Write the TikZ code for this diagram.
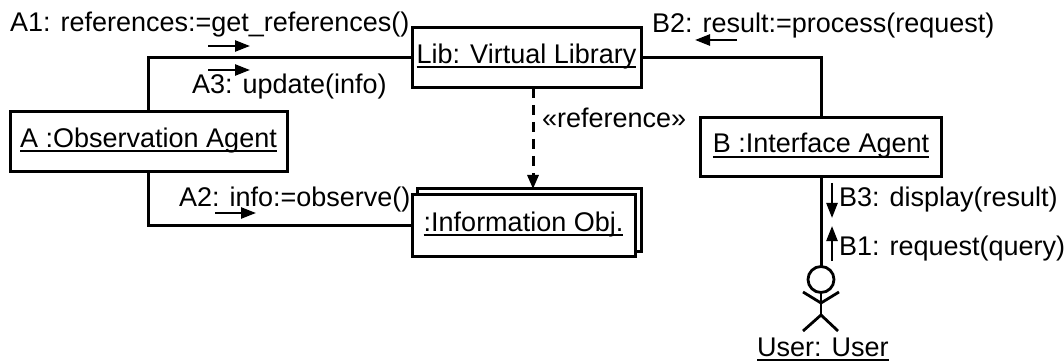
\documentclass[tikz,border=0pt]{standalone}
\usepackage{fontspec}
\setmainfont{Liberation Sans}
\usetikzlibrary{arrows.meta}
\newcommand\myul[1]{\setbox0\hbox{#1}\rlap{\rule[-5pt]{\wd0}{2pt}}\box0}
\begin{document}
\begin{tikzpicture}[x=1pt,y=-1pt,
  every node/.style={font=\fontsize{27}{32}\selectfont,inner sep=0pt,outer sep=0pt},
  obj/.style={draw,line width=3pt,fill=white,text height=19pt,text depth=8pt},
  conn/.style={line width=3pt},
  msg/.style={line width=2.4pt,-{Triangle[length=15pt,width=11pt]}},
  lbl/.style={anchor=base west}]
\useasboundingbox (0,0) rectangle (1064,363);
% objects
\node[obj,minimum width=277pt,minimum height=60pt] (A) at (148.5,142) {\myul{A :Observation Agent}};
\node[obj,minimum width=229pt,minimum height=60pt] (Lib) at (526.5,58) {\myul{Lib: Virtual Library}};
\node[obj,minimum width=241pt,minimum height=59pt] (B) at (821,147.5) {\myul{B :Interface Agent}};
\node[draw,line width=3pt,minimum width=224pt,minimum height=62pt] (InfoB) at (529,220) {};
\node[obj,minimum width=223pt,minimum height=61pt] (Info) at (523.5,225.5) {\myul{:Information Obj.}};
% actor
\node[circle,draw,line width=2.8pt,minimum size=26pt] (head) at (821,279.5) {};
\coordinate (hip) at (821,315);
\draw[line width=2.8pt] (803,292) -- (821,303) -- (839,292);
\draw[line width=2.8pt] (head.south) -- (hip);
\draw[line width=2.8pt] (803,331) -- (hip) -- (838,331);
\node[lbl] (U) at (757,356) {\myul{User: User}};
% connectors
\draw[conn] (A.north) |- (Lib.west);
\draw[conn] (Lib.east) -| (B.north);
\draw[conn] (A.south) |- (Info.west);
\draw[conn] (B.south) -- (head.north);
\draw[line width=3pt,dash pattern=on 10pt off 7pt,-{Triangle[length=14pt,width=11pt]}] ([xshift=6.5pt]Lib.south) -- ([xshift=4pt]InfoB.north);
% labels
\node[lbl] (l1) at (10,32) {A1: references:=get\_references()};
\node[lbl] (l3) at (192,94) {A3: update(info)};
\node[lbl] (l2) at (179,207) {A2: info:=observe()};
\node[lbl] (l4) at (652,33) {B2: result:=process(request)};
\node[lbl] (l5) at (542,128) {«reference»};
\node[lbl] (l6) at (839,207) {B3: display(result)};
\node[lbl] (l7) at (839,255) {B1: request(query)};
% message arrows
\draw[msg] (208,46) -- (250,46);
\draw[msg] (208,70) -- (250,70);
\draw[msg] (215,213) -- (256,213);
\draw[msg] (737,40) -- (695,40);
\draw[msg] (832,183) -- (832,218);
\draw[msg] (832,261) -- (832,226);
\end{tikzpicture}
\end{document}
